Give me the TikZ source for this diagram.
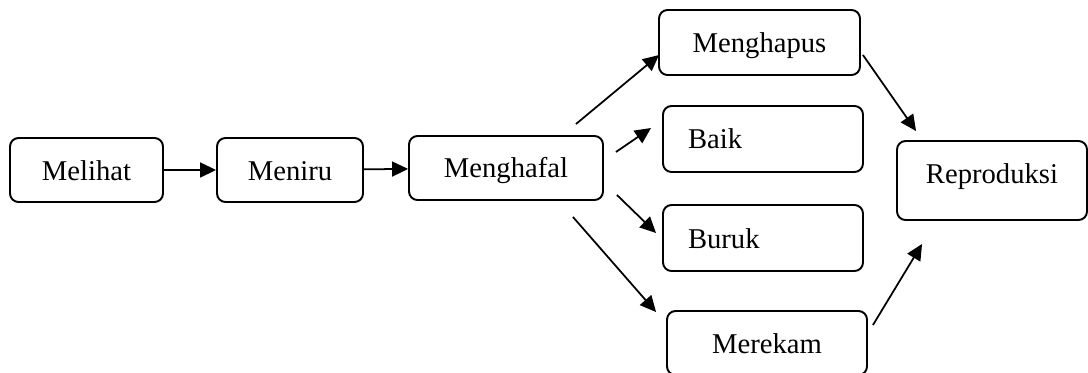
\documentclass[tikz,border=0pt]{standalone}
\usepackage{fontspec}
\setmainfont{Liberation Serif}
\usetikzlibrary{arrows.meta}

\begin{document}
\begin{tikzpicture}[x=0.02cm, y=-0.02cm,
	kotak/.style={draw, line width=1.1pt, rounded corners=0.17cm, inner sep=0pt,
		text height=0.4cm, text depth=0cm, font=\fontsize{16.3}{19}\selectfont},
	kiri/.style={kotak, align=left, text width=3cm, inner xsep=0.5cm, minimum height=1.32cm},
	panah/.style={line width=1pt, -{Triangle[length=0.32cm, width=0.3cm]}}]

\useasboundingbox (0,0) rectangle (1088,372);

\node[kotak, minimum width=3.06cm, minimum height=1.28cm] (lihat) at (86.5,170) {Melihat};
\node[kotak, minimum width=2.92cm, minimum height=1.28cm] (tiru) at (290,170) {Meniru};
\node[kotak, minimum width=3.88cm, minimum height=1.28cm] (hafal) at (506,168) {Menghafal};

\node[kotak, minimum width=4.02cm, minimum height=1.3cm] (hapus) at (759.5,42.5) {Menghapus};
\node[kiri] (baik) at (763,139) {Baik};
\node[kiri] (buruk) at (763,238) {Buruk};
\node[kotak, minimum width=4cm, minimum height=1.28cm] (rekam) at (767,343) {Merekam};

\node[kotak, minimum width=3.8cm, minimum height=1.58cm, text depth=0.3cm] (repro) at (992,180.5) {Reproduksi};

\draw[panah] (lihat) -- (tiru);
\draw[panah] (tiru) -- (hafal);

\draw[panah] ([shift={(-28,-11)}]hafal.north east) -- ([shift={(1,12.5)}]hapus.west);
\draw[panah] ([shift={(12,-16)}]hafal.east) -- ([shift={(-11,-11)}]baik.west);
\draw[panah] ([shift={(13,27)}]hafal.east) -- ([shift={(-6,-5)}]buruk.west);
\draw[panah] ([shift={(-31,16)}]hafal.south east) -- ([shift={(-10,2)}]rekam.north west);

\draw[panah] ([shift={(2,12.5)}]hapus.east) -- ([shift={(20,-9)}]repro.north west);
\draw[panah] ([shift={(5,-18)}]rekam.east) -- ([shift={(26,23)}]repro.south west);

\end{tikzpicture}
\end{document}
